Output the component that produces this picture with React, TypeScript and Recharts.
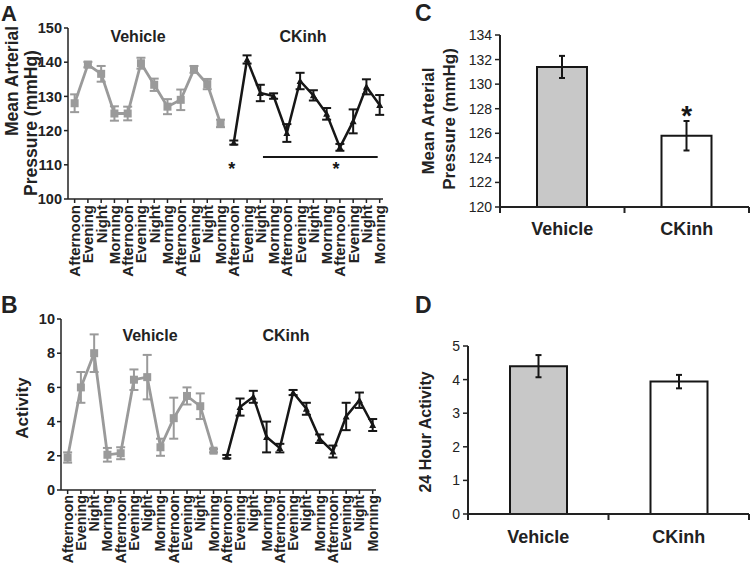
import React from 'react';
import {
  LineChart,
  Line,
  XAxis,
  YAxis,
  ErrorBar,
  ReferenceLine,
  ReferenceDot,
  BarChart,
  Bar,
  Cell,
} from 'recharts';

// ---------- data ----------
const timeLabels = [
  'Afternoon', 'Evening', 'Night', 'Morning',
  'Afternoon', 'Evening', 'Night', 'Morning',
  'Afternoon', 'Evening', 'Night', 'Morning',
  'Afternoon', 'Evening', 'Night', 'Morning',
  'Afternoon', 'Evening', 'Night', 'Morning',
  'Afternoon', 'Evening', 'Night', 'Morning',
];

const mapVehicle = [128, 139.3, 136.6, 125, 125, 139.7, 133.4, 127, 129, 137.9, 133.6, 122.1];
const mapVehicleErr = [2.6, 0.8, 2.3, 2.1, 2, 1.6, 1.8, 2.2, 3, 1, 1.5, 1.1];
const mapCkinh = [116.5, 140.8, 131, 130.1, 119.3, 134.5, 130.3, 124.9, 115.1, 122.7, 132.8, 127.5];
const mapCkinhErr = [0.6, 1.2, 2.4, 0.8, 2.6, 2.4, 1.5, 1.7, 1, 3.5, 2.2, 2.9];

const actVehicle = [1.9, 6.0, 8.0, 2.06, 2.15, 6.45, 6.6, 2.5, 4.2, 5.5, 4.9, 2.3];
const actVehicleErr = [0.3, 0.9, 1.1, 0.4, 0.35, 0.6, 1.3, 0.5, 1.2, 0.5, 0.75, 0.1];
const actCkinh = [1.95, 4.85, 5.45, 3.1, 2.45, 5.7, 4.75, 3.0, 2.25, 4.3, 5.25, 3.8];
const actCkinhErr = [0.1, 0.5, 0.35, 0.9, 0.25, 0.15, 0.35, 0.25, 0.35, 0.8, 0.45, 0.35];

const groups = ['Vehicle', 'CKinh'];
const mapMean = [131.4, 125.8];
const mapMeanErr = [0.9, 1.2];
const activityMean = [4.4, 3.94];
const activityMeanErr = [0.33, 0.2];

const mapTicks = [100, 110, 120, 130, 140, 150];
const actTicks = [0, 2, 4, 6, 8, 10];
const mapMeanTicks = [120, 122, 124, 126, 128, 130, 132, 134];
const actMeanTicks = [0, 1, 2, 3, 4, 5];

// ---------- style ----------
const FONT = '"Liberation Sans", Arial, Helvetica, sans-serif';
const GRAY = '#9a9a9a';
const BLACK = '#161616';
const AXIS = '#222';
const BAR_GRAY = '#c8c8c8';

const xIdx = timeLabels.map((_, i) => i);
const vehMapData = mapVehicle.map((v, i) => ({ i, v, e: mapVehicleErr[i] }));
const ckMapData = mapCkinh.map((v, i) => ({ i: i + 12, v, e: mapCkinhErr[i] }));
const vehActData = actVehicle.map((v, i) => ({ i, v, e: actVehicleErr[i] }));
const ckActData = actCkinh.map((v, i) => ({ i: i + 12, v, e: actCkinhErr[i] }));
const mapBarData = groups.map((g, i) => ({ name: g, value: mapMean[i], err: mapMeanErr[i] }));
const actBarData = groups.map((g, i) => ({ name: g, value: activityMean[i], err: activityMeanErr[i] }));
const barFills = [BAR_GRAY, '#ffffff'];

// ---------- components ----------
const SquareDot = (props: any) => {
  const { cx, cy } = props;
  if (cx == null || cy == null) return <g />;
  return <rect x={cx - 4} y={cy - 4} width={8} height={8} fill={GRAY} />;
};

const TriDot = (props: any) => {
  const { cx, cy } = props;
  if (cx == null || cy == null) return <g />;
  return (
    <path
      d={`M${cx},${cy - 3.5} L${cx + 3.5},${cy + 3} L${cx - 3.5},${cy + 3} Z`}
      fill={BLACK}
    />
  );
};

const makeRotTick = (size: number) => (props: any) => {
  const { x, y, payload } = props;
  return (
    <text
      x={x}
      y={y}
      transform={`rotate(-90 ${x} ${y})`}
      textAnchor="end"
      dominantBaseline="central"
      fontSize={size}
      fontWeight="bold"
      fontFamily={FONT}
      fill={AXIS}
    >
      {timeLabels[payload.value]}
    </text>
  );
};

const makeBarTick = (band: number, dy: number) => (props: any) => {
  const { x, y, payload, index } = props;
  return (
    <g>
      <text
        x={x}
        y={y + dy}
        textAnchor="middle"
        fontSize={18}
        fontWeight="bold"
        fontFamily={FONT}
        fill={AXIS}
      >
        {payload.value}
      </text>
      {index === 0 && (
        <line x1={x - band / 2} x2={x - band / 2} y1={y} y2={y + 6} stroke={AXIS} strokeWidth={2} />
      )}
      <line x1={x + band / 2} x2={x + band / 2} y1={y} y2={y + 6} stroke={AXIS} strokeWidth={2} />
    </g>
  );
};

const StarShape = (size: number, lift: number) => (props: any) => {
  const { cx, cy } = props;
  return (
    <text
      x={cx}
      y={cy + lift}
      textAnchor="middle"
      fontSize={size}
      fontWeight="bold"
      fontFamily={FONT}
      fill={BLACK}
    >
      *
    </text>
  );
};

const boldTick = { fontSize: 14.5, fontWeight: 'bold', fontFamily: FONT, fill: AXIS };
const regTick = { fontSize: 14, fontFamily: FONT, fill: AXIS };

const RotLabel = ({ x, y, text, size }: { x: number; y: number; text: string; size: number }) => (
  <text
    x={x}
    y={y}
    transform={`rotate(-90 ${x} ${y})`}
    textAnchor="middle"
    dominantBaseline="central"
    fontSize={size}
    fontWeight="bold"
    fontFamily={FONT}
    fill={AXIS}
  >
    {text}
  </text>
);

const Txt = ({ x, y, text, size, anchor = 'middle' }: any) => (
  <text x={x} y={y} textAnchor={anchor} fontSize={size} fontWeight="bold" fontFamily={FONT} fill={AXIS}>
    {text}
  </text>
);

export default function App() {
  return (
    <div
      style={{
        position: 'absolute',
        left: 0,
        top: 0,
        width: 750,
        height: 564,
        background: '#fff',
        fontFamily: FONT,
      }}
    >
      {/* Panel A */}
      <div style={{ position: 'absolute', left: 0, top: 0 }}>
        <LineChart width={400} height={290} margin={{ top: 28, right: 17, bottom: 6, left: 0 }}>
          <XAxis
            dataKey="i"
            type="number"
            domain={[-0.5, 23.25]}
            allowDataOverflow
            ticks={xIdx}
            interval={0}
            height={85}
            tick={makeRotTick(15)}
            tickSize={4}
            tickMargin={2}
            axisLine={{ stroke: AXIS, strokeWidth: 1.5 }}
            tickLine={{ stroke: AXIS, strokeWidth: 1.5 }}
          />
          <YAxis
            type="number"
            domain={[100, 150]}
            ticks={mapTicks}
            width={68}
            tick={boldTick}
            tickSize={4}
            tickMargin={2}
            axisLine={{ stroke: AXIS, strokeWidth: 1.5 }}
            tickLine={{ stroke: AXIS, strokeWidth: 1.5 }}
          />
          <Line
            data={vehMapData}
            dataKey="v"
            stroke={GRAY}
            strokeWidth={2.8}
            dot={<SquareDot />}
            isAnimationActive={false}
          >
            <ErrorBar dataKey="e" width={4.5} strokeWidth={2} stroke={GRAY} />
          </Line>
          <Line
            data={ckMapData}
            dataKey="v"
            stroke={BLACK}
            strokeWidth={2.5}
            dot={<TriDot />}
            isAnimationActive={false}
          >
            <ErrorBar dataKey="e" width={4.5} strokeWidth={2} stroke={BLACK} />
          </Line>
          <ReferenceLine
            segment={[
              { x: 14.2, y: 112.3 },
              { x: 22.85, y: 112.3 },
            ]}
            stroke={BLACK}
            strokeWidth={2}
          />
          <ReferenceDot x={11.85} y={110} r={0} shape={StarShape(18, 10)} />
          <ReferenceDot x={19.7} y={110} r={0} shape={StarShape(18, 10)} />
        </LineChart>
      </div>

      {/* Panel B */}
      <div style={{ position: 'absolute', left: 0, top: 290 }}>
        <LineChart width={400} height={274} margin={{ top: 29, right: 24, bottom: 4, left: 0 }}>
          <XAxis
            dataKey="i"
            type="number"
            domain={[-0.5, 23.25]}
            allowDataOverflow
            ticks={xIdx}
            interval={0}
            height={70}
            tick={makeRotTick(14.3)}
            tickSize={4}
            tickMargin={1}
            axisLine={{ stroke: AXIS, strokeWidth: 1.5 }}
            tickLine={{ stroke: AXIS, strokeWidth: 1.5 }}
          />
          <YAxis
            type="number"
            domain={[0, 10]}
            ticks={actTicks}
            width={61}
            tick={boldTick}
            tickSize={4}
            tickMargin={2}
            axisLine={{ stroke: AXIS, strokeWidth: 1.5 }}
            tickLine={{ stroke: AXIS, strokeWidth: 1.5 }}
          />
          <Line
            data={vehActData}
            dataKey="v"
            stroke={GRAY}
            strokeWidth={2.8}
            dot={<SquareDot />}
            isAnimationActive={false}
          >
            <ErrorBar dataKey="e" width={4.5} strokeWidth={2} stroke={GRAY} />
          </Line>
          <Line
            data={ckActData}
            dataKey="v"
            stroke={BLACK}
            strokeWidth={2.5}
            dot={<TriDot />}
            isAnimationActive={false}
          >
            <ErrorBar dataKey="e" width={4.5} strokeWidth={2} stroke={BLACK} />
          </Line>
        </LineChart>
      </div>

      {/* Panel C */}
      <div style={{ position: 'absolute', left: 400, top: 0 }}>
        <BarChart
          width={350}
          height={290}
          data={mapBarData}
          margin={{ top: 35, right: 1, bottom: 33, left: 0 }}
        >
          <XAxis
            dataKey="name"
            height={50}
            tickLine={false}
            tickSize={0}
            tickMargin={0}
            tick={makeBarTick(124.5, 28)}
            axisLine={{ stroke: AXIS, strokeWidth: 2 }}
          />
          <YAxis
            type="number"
            domain={[120, 134]}
            ticks={mapMeanTicks}
            width={100}
            tick={regTick}
            tickSize={5}
            tickMargin={3}
            axisLine={{ stroke: AXIS, strokeWidth: 2 }}
            tickLine={{ stroke: AXIS, strokeWidth: 1.5 }}
          />
          <Bar dataKey="value" barSize={50} stroke={BLACK} strokeWidth={2} isAnimationActive={false}>
            {mapBarData.map((d, i) => (
              <Cell key={d.name} fill={barFills[i]} />
            ))}
            <ErrorBar dataKey="err" width={3} strokeWidth={2} stroke={BLACK} />
          </Bar>
          <ReferenceDot x="CKinh" y={128} r={0} shape={StarShape(28, 16)} />
        </BarChart>
      </div>

      {/* Panel D */}
      <div style={{ position: 'absolute', left: 400, top: 290 }}>
        <BarChart
          width={350}
          height={274}
          data={actBarData}
          margin={{ top: 56, right: 1, bottom: 20, left: 0 }}
        >
          <XAxis
            dataKey="name"
            height={30}
            tickLine={false}
            tickSize={0}
            tickMargin={0}
            tick={makeBarTick(140.5, 29)}
            axisLine={{ stroke: AXIS, strokeWidth: 2 }}
          />
          <YAxis
            type="number"
            domain={[0, 5]}
            ticks={actMeanTicks}
            width={68}
            tick={regTick}
            tickSize={5}
            tickMargin={3}
            axisLine={{ stroke: AXIS, strokeWidth: 2 }}
            tickLine={{ stroke: AXIS, strokeWidth: 1.5 }}
          />
          <Bar dataKey="value" barSize={57} stroke={BLACK} strokeWidth={2} isAnimationActive={false}>
            {actBarData.map((d, i) => (
              <Cell key={d.name} fill={barFills[i]} />
            ))}
            <ErrorBar dataKey="err" width={3} strokeWidth={2} stroke={BLACK} />
          </Bar>
        </BarChart>
      </div>

      {/* Text overlay: panel letters, axis titles, group labels */}
      <svg
        width={750}
        height={564}
        style={{ position: 'absolute', left: 0, top: 0, pointerEvents: 'none' }}
      >
        <Txt x={1} y={21} text="A" size={22} anchor="start" />
        <Txt x={1} y={313} text="B" size={23} anchor="start" />
        <Txt x={415} y={21} text="C" size={23} anchor="start" />
        <Txt x={415} y={313} text="D" size={23} anchor="start" />

        <RotLabel x={12} y={81} text="Mean Arterial" size={17.5} />
        <RotLabel x={31} y={123} text="Pressure (mmHg)" size={17.5} />
        <RotLabel x={22} y={408} text="Activity" size={17} />
        <RotLabel x={428} y={121} text="Mean Arterial" size={17} />
        <RotLabel x={449} y={119} text="Pressure (mmHg)" size={17} />
        <RotLabel x={425} y={432} text="24 Hour Activity" size={16} />

        <Txt x={138} y={42} text="Vehicle" size={16} />
        <Txt x={303} y={42} text="CKinh" size={16} />
        <Txt x={150} y={341} text="Vehicle" size={16} />
        <Txt x={286} y={341} text="CKinh" size={16} />
      </svg>
    </div>
  );
}
